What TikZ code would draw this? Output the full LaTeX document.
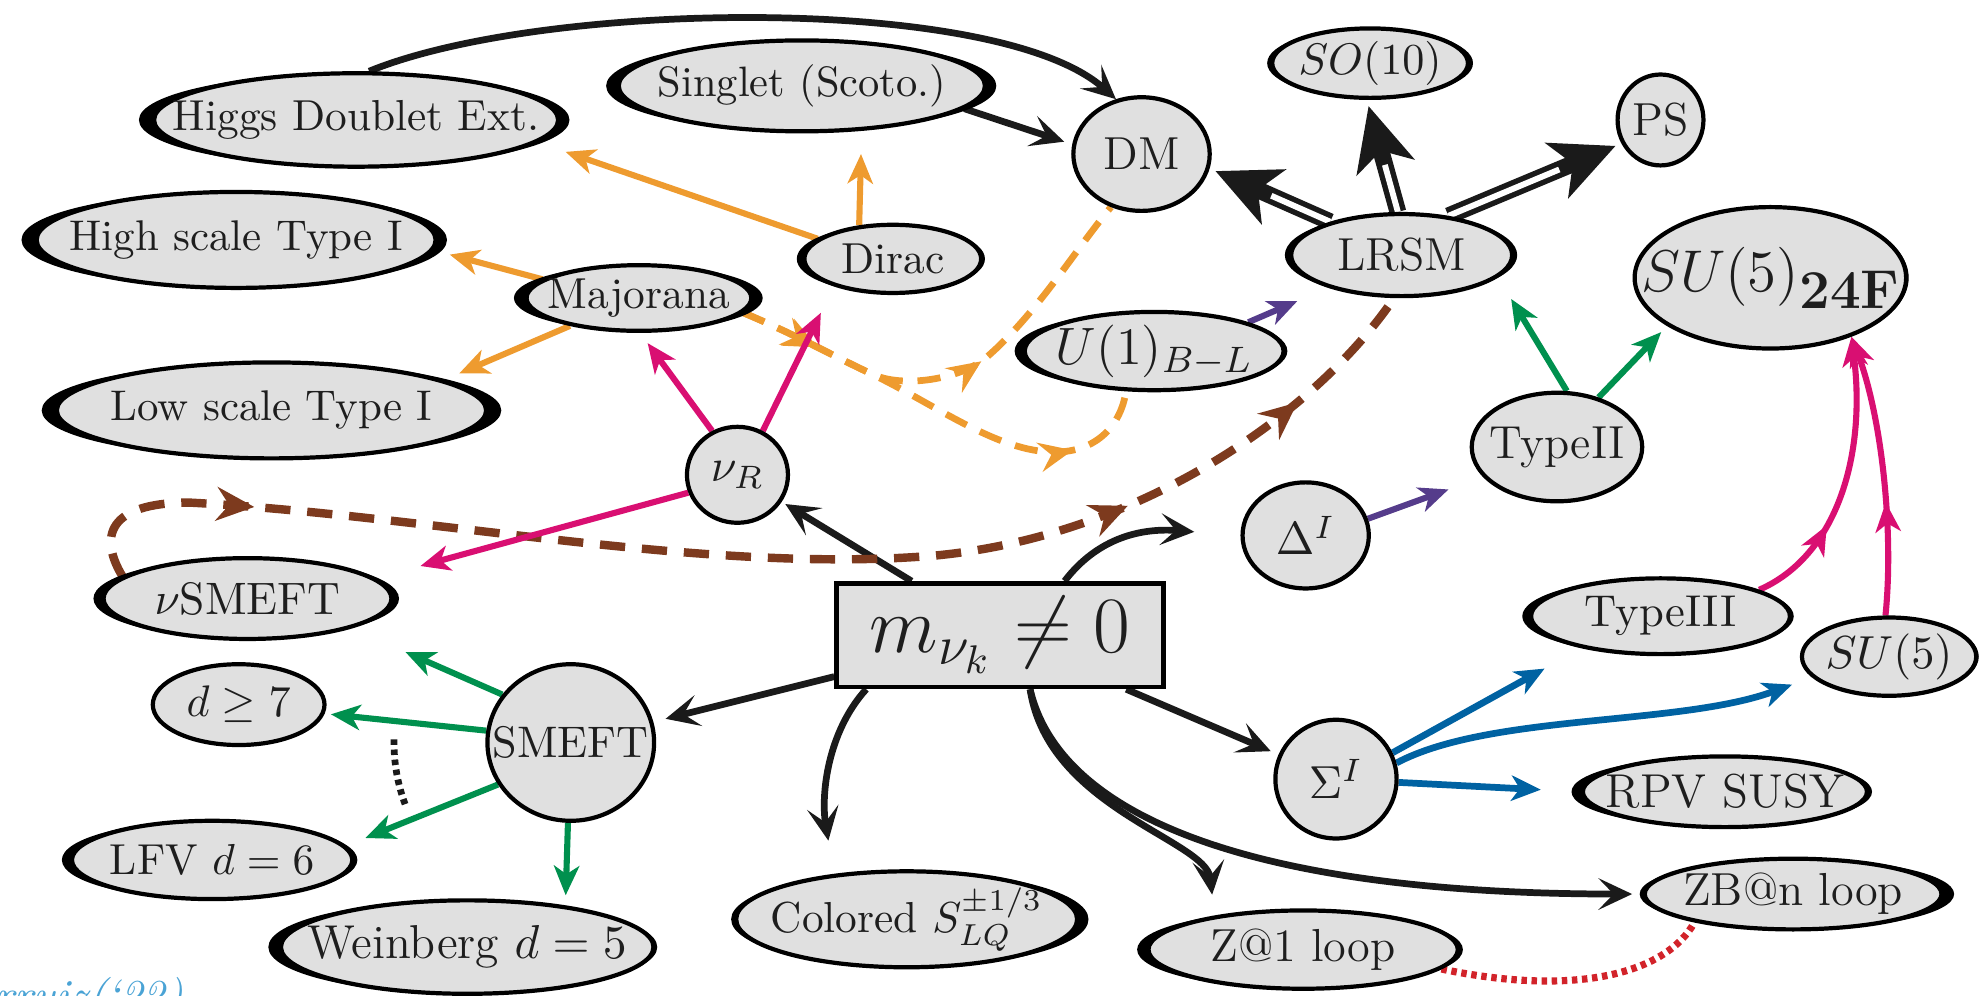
\documentclass[tikz,border=0pt]{standalone}
\usepackage{fix-cm}
\usepackage{fontspec}
\usetikzlibrary{arrows.meta,decorations.markings,shapes.geometric}
\definecolor{ngrey}{HTML}{E0E0E0}
\definecolor{nblack}{HTML}{1A1A1A}
\definecolor{txtc}{HTML}{1E1E1E}
\definecolor{corange}{HTML}{EE9B2F}
\definecolor{cbrown}{HTML}{7D3A1E}
\definecolor{cpink}{HTML}{D90F72}
\definecolor{cgreen}{HTML}{00904E}
\definecolor{cpurple}{HTML}{553C8B}
\definecolor{cblue}{HTML}{0062A2}
\definecolor{cred}{HTML}{D2232A}
\definecolor{ccite}{HTML}{4AA3D5}
\pgfdeclarelayer{bg}
\pgfsetlayers{bg,main}
\newcommand\fs[1]{\fontsize{#1}{#1}\selectfont}
% name, x, y, w, h, left crescent, right crescent, text
\newcommand\enode[8]{%
  \fill[black] ({#2+(#7-#6)/2},#3) ellipse [x radius={#4/2+(#6+#7)/2}, y radius={#5/2}];
  \node[ell, minimum width=#4*0.3pt, minimum height=#5*0.3pt] (#1) at (#2,#3) {};
  \node[txt] (#1-t) at (#1.center) {#8};
}
\newcommand\dbl[2]{%
  \draw[nblack, line width=4pt, shorten >=1.5pt, -{Stealth[length=15pt,width=14pt,inset=4pt]}] #1 -- #2;
  \draw[white, line width=1.4pt, shorten >=16pt] #1 -- #2;
}
\begin{document}
\begin{tikzpicture}[x=0.3pt, y=-0.3pt,
  ell/.style={ellipse, draw=black, fill=ngrey, line width=1pt, inner sep=0pt},
  txt/.style={inner sep=0pt, text=txtc},
  blk/.style={draw=nblack, line width=1.6pt, -{Stealth[length=8pt,width=7.5pt,inset=3.6pt]}},
  carr/.style={line width=1.45pt, -{Stealth[length=7pt,width=6pt,inset=2pt]}},
  odash/.style={color=corange, line width=1.6pt, dash pattern=on 5.5pt off 3.5pt},
  bdash/.style={color=cbrown, line width=2pt, dash pattern=on 6pt off 4pt},
  rdot/.style={color=cred, line width=1.7pt, dash pattern=on 1.3pt off 1.1pt},
  kdot/.style={color=nblack, line width=1.6pt, dash pattern=on 1.3pt off 1.1pt},
  mk/.style={postaction={decorate,decoration={markings,mark=at position #1 with {\arrow{Stealth[length=8pt,width=7pt,inset=2.8pt]}}}}},
  mkb/.style={postaction={decorate,decoration={markings,mark=at position #1 with {\arrow{Stealth[length=9pt,width=8pt,inset=3pt]}}}}},
  mkp/.style={postaction={decorate,decoration={markings,mark=at position #1 with {\arrow{Stealth[length=7pt,width=6pt,inset=2pt]}}}}}
]
\useasboundingbox (0,0) rectangle (1568,788);

% ---------- nodes ----------
\enode{higgs}{282}{95}{320}{74}{12}{9}{\fs{10.3}Higgs Doublet Ext.}
\enode{singlet}{635}{68}{290}{72}{10}{9}{\fs{10.1}Singlet (Scoto.)}
\enode{dm}{904}{122}{108}{90}{0}{0}{\fs{11}DM}
\enode{so10}{1085}{50}{155}{55}{4}{4}{\fs{10.5}$SO(10)$}
\enode{ps}{1315}{95}{68}{72}{0}{0}{\fs{11}PS}
\enode{lrsm}{1110}{202}{175}{65}{5}{4}{\fs{11}LRSM}
\enode{suf}{1402}{220}{215}{112}{0}{2}{\fs{14}$SU(5)$\raisebox{-4pt}{\fs{13}\bfseries 24F}}
\enode{high}{187}{190}{316}{76}{12}{9}{\fs{10.2}High scale Type I}
\enode{maj}{506}{236}{178}{52}{10}{9}{\fs{10.3}Majorana}
\enode{dirac}{707}{205}{140}{54}{6}{3}{\fs{10.3}Dirac}
\enode{u1}{914}{278}{205}{62}{8}{3}{\fs{12.5}$U(1)_{B-L}$}
\enode{low}{215}{325}{340}{76}{12}{12}{\fs{10.2}Low scale Type I}
\enode{nuR}{584}{376}{80}{76}{0}{0}{\fs{11}$\nu_R$}
\enode{typeII}{1233}{354}{135}{86}{0}{0}{\fs{11}TypeII}
\enode{delta}{1034}{424}{100}{84}{0}{0}{\fs{11}$\Delta^I$}
\enode{nusmeft}{196}{474}{228}{64}{8}{6}{\fs{10.8}$\nu$SMEFT}
\node[draw=black, fill=ngrey, line width=1.1pt, minimum width=259*0.3pt, minimum height=82*0.3pt, inner sep=0pt, text=txtc] (m) at (792,503) {\fs{19}$m_{\nu_k}\neq 0$};
\enode{typeIII}{1315}{488}{205}{60}{7}{3}{\fs{10.6}TypeIII}
\enode{sufive}{1496}{520}{138}{62}{0}{2}{\fs{11}$SU(5)$}
\enode{dge}{189}{558}{136}{64}{0}{0}{\fs{10.5}$d\geq 7$}
\enode{smeft}{452}{588}{132}{124}{0}{0}{\fs{10.5}SMEFT}
\enode{sigma}{1058}{617}{96}{94}{0}{0}{\fs{11}$\Sigma^I$}
\enode{rpv}{1366}{627}{225}{56}{9}{4}{\fs{11.3}RPV SUSY}
\enode{lfv}{168}{681}{222}{62}{8}{4}{\fs{10.3}LFV $d=6$}
\enode{wein}{370}{750}{295}{74}{10}{3}{\fs{11.3}Weinberg $d=5$}
\enode{col}{718}{728}{270}{76}{4}{9}{\fs{10.3}Colored $S_{LQ}^{\pm 1/3}$}
\enode{zone}{1032}{752}{245}{62}{9}{4}{\fs{11}Z@1 loop}
\enode{zbn}{1420}{708}{235}{56}{4}{10}{\fs{11}ZB@n loop}
\node[anchor=base west, inner sep=0pt, text=ccite] (cite) at (-4,800) {\fs{10.5}\itshape rruiz(‘22)};

% ---------- connectors ----------
\begin{pgfonlayer}{bg}
% black
\draw[blk, shorten >=1pt] (m) -- (nuR);
\draw[blk, shorten >=3pt] (m) -- (smeft);
\draw[blk, shorten >=11pt] (m.40) .. controls (870,425) and (905,418) .. (delta.180);
\draw[blk, shorten >=2pt] (m) -- (sigma);
\draw[blk, shorten >=8pt] (m.-158) .. controls (655,580) and (650,630) .. (col.148);
\draw[blk, shorten >=5pt] (m.-61) .. controls (830,640) and (955,665) .. (zone.159);
\draw[blk, shorten >=2.5pt] (m.-61) .. controls (840,650) and (1000,708) .. (zbn.180);
\draw[blk] (higgs.75) .. controls (430,0) and (790,-5) .. (dm.115);
\draw[blk, shorten >=2pt] (singlet.-8) -- (dm.172);
% double arrows from LRSM
\dbl{(lrsm.155)}{(dm.-12)}
\dbl{(lrsm.95)}{(so10.-95)}
\dbl{(lrsm.40)}{(ps.211)}
% orange
\draw[carr, corange, shorten >=7pt] (dirac.165) -- (higgs.-7);
\draw[carr, corange, shorten >=5.5pt] (dirac.135) -- (singlet.-37);
\draw[carr, corange, shorten >=4pt] (maj.169) -- (high.-3);
\draw[carr, corange, shorten >=4pt] (maj.-158) -- (low.10);
\draw[odash, mk=0.18, mk=0.81] (maj.-8) .. controls (630,265) and (660,282) .. (690,296) .. controls (740,320) and (790,358) .. (835,358) .. controls (870,358) and (888,335) .. (u1.-125);
\draw[odash, mk=0.18, mk=0.56] (maj.-8) .. controls (630,265) and (660,282) .. (690,296) .. controls (715,308) and (760,300) .. (780,284) .. controls (820,250) and (850,200) .. (dm.-120);
% brown
\draw[bdash, mkb=0.14, mkb=0.76, mkb=0.9] (nusmeft.170) .. controls (78,425) and (85,398) .. (150,398) .. controls (340,408) and (560,455) .. (740,440) .. controls (900,425) and (1040,330) .. (lrsm.-100);
% pink
\draw[carr, cpink, shorten >=3pt] (nuR.120) -- (maj.-88);
\draw[carr, cpink, shorten >=7pt] (nuR.60) -- (dirac.-155);
\draw[carr, cpink, shorten >=11pt] (nuR.-160) -- (nusmeft.9);
\draw[carr, cpink, mkp=0.33] (typeIII.15) .. controls (1455,440) and (1478,360) .. (suf.-36);
\draw[carr, cpink, mkp=0.4] (sufive.95) .. controls (1500,420) and (1490,330) .. (suf.-36);
% green
\draw[carr, cgreen, shorten >=6pt] (typeII.80) -- (lrsm.-13);
\draw[carr, cgreen, shorten >=2pt] (typeII.50) -- (suf.-155);
\draw[carr, cgreen, shorten >=14pt] (smeft.145) -- (nusmeft.-16);
\draw[carr, cgreen, shorten >=1.5pt] (smeft.172) -- (dge.-6);
\draw[carr, cgreen, shorten >=5pt] (smeft.-150) -- (lfv.6);
\draw[carr, cgreen, shorten >=2.4pt] (smeft.-92) -- (wein.23);
\draw[kdot] (smeft.center) ++(181:140) arc[start angle=181, end angle=159, radius=140];
% purple
\draw[carr, cpurple, shorten >=8pt] (u1.17) -- (lrsm.-156);
\draw[carr, cpurple, shorten >=8.7pt] (delta.15) -- (typeII.-158);
% blue
\draw[carr, cblue, line width=1.6pt, shorten >=10pt] (sigma.25) -- (typeIII.-158);
\draw[carr, cblue, line width=1.6pt, shorten >=5pt] (sigma.15) .. controls (1180,565) and (1330,575) .. (sufive.-165);
\draw[carr, cblue, line width=1.6pt, shorten >=9.5pt] (sigma.-3) -- (rpv.180);
% red dotted
\draw[rdot] (zone.-8) .. controls (1250,790) and (1320,770) .. (zbn.-164);
\end{pgfonlayer}
\end{tikzpicture}
\end{document}
